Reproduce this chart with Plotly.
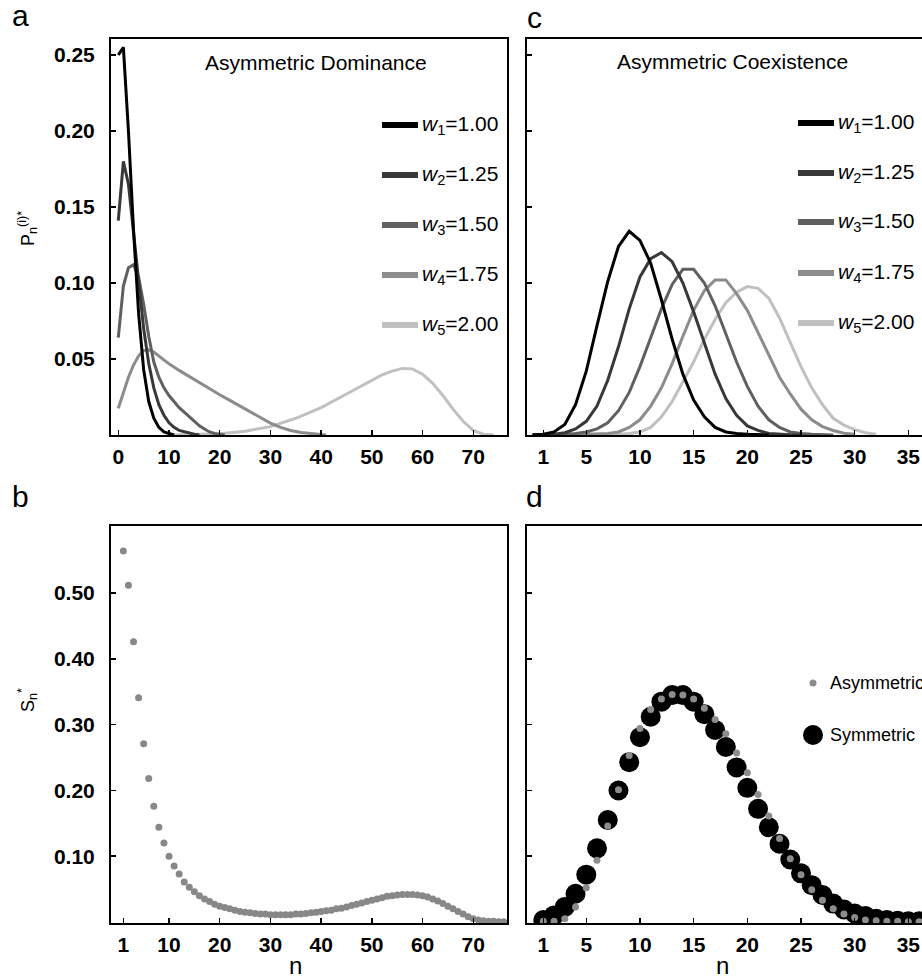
import plotly.graph_objects as go

# ---------------- data ----------------
w_values = ["1.00", "1.25", "1.50", "1.75", "2.00"]
w_colors = ["#000000", "#383838", "#606060", "#8c8c8c", "#c0c0c0"]

# Panel a: Asymmetric Dominance, P_n^(i)*
a_n_w1 = list(range(0, 12))
a_p_w1 = [0.250, 0.255, 0.200, 0.135, 0.080, 0.043, 0.022, 0.011, 0.005, 0.002, 0.001, 0.0]
a_n_w2 = list(range(0, 17))
a_p_w2 = [0.141, 0.180, 0.165, 0.132, 0.100, 0.070, 0.047, 0.031, 0.020, 0.013, 0.008,
          0.005, 0.003, 0.002, 0.001, 0.0005, 0.0]
a_n_w3 = list(range(0, 22))
a_p_w3 = [0.064, 0.098, 0.110, 0.112, 0.104, 0.086, 0.065, 0.048, 0.038, 0.031, 0.026,
          0.022, 0.018, 0.015, 0.012, 0.009, 0.006, 0.004, 0.002, 0.001, 0.0005, 0.0]
a_n_w4 = [0, 1, 2, 3, 4, 5, 6, 7, 8, 9, 10, 12, 14, 16, 18, 20, 22, 24, 26, 28, 30, 32,
          34, 36, 38, 40, 41]
a_p_w4 = [0.0175, 0.028, 0.038, 0.046, 0.052, 0.0555, 0.056, 0.0545, 0.052, 0.0495, 0.0468,
          0.0425, 0.0384, 0.0345, 0.0305, 0.0265, 0.0228, 0.019, 0.0155, 0.0115, 0.0078,
          0.005, 0.003, 0.0017, 0.0008, 0.0003, 0.0]
a_n_w5 = [10, 15, 20, 25, 30, 35, 40, 45, 50, 52, 54, 56, 58, 60, 62, 64, 66, 68, 70, 72, 74]
a_p_w5 = [0.0, 0.0002, 0.0008, 0.0025, 0.0055, 0.011, 0.018, 0.027, 0.036, 0.0395, 0.042,
          0.0438, 0.0435, 0.040, 0.034, 0.026, 0.017, 0.009, 0.003, 0.0005, 0.0]

# Panel c: Asymmetric Coexistence, P_n^(i)*
c_p_w1 = [0.0, 0.0005, 0.002, 0.007, 0.020, 0.042, 0.072, 0.101, 0.124, 0.134, 0.128,
          0.113, 0.089, 0.063, 0.040, 0.023, 0.012, 0.005, 0.002, 0.001, 0.0005, 0.0002, 0.0]
c_p_w2 = [0.0, 0.0001, 0.0005, 0.0015, 0.004, 0.009, 0.019, 0.036, 0.058, 0.083, 0.104,
          0.116, 0.120, 0.114, 0.100, 0.081, 0.060, 0.040, 0.024, 0.013, 0.006, 0.003,
          0.001, 0.0005, 0.0002, 0.0]
c_p_w3 = [0.0, 0.0, 0.0002, 0.0005, 0.001, 0.002, 0.004, 0.008, 0.016, 0.028, 0.045,
          0.064, 0.083, 0.099, 0.109, 0.109, 0.100, 0.085, 0.067, 0.048, 0.032, 0.019,
          0.010, 0.005, 0.002, 0.001, 0.0005, 0.0002, 0.0]
c_p_w4 = [0.0, 0.0, 0.0, 0.0, 0.0002, 0.0005, 0.0007, 0.001, 0.002, 0.005, 0.010, 0.019,
          0.031, 0.047, 0.065, 0.082, 0.095, 0.102, 0.102, 0.093, 0.082, 0.067, 0.052,
          0.038, 0.027, 0.017, 0.010, 0.0055, 0.003, 0.0012, 0.0005]
c_p_w5 = [0.0, 0.0, 0.0, 0.0, 0.0, 0.0001, 0.0002, 0.0003, 0.0005, 0.001, 0.002, 0.005,
          0.012, 0.022, 0.035, 0.048, 0.063, 0.076, 0.087, 0.094, 0.0976, 0.0965, 0.090,
          0.077, 0.061, 0.045, 0.031, 0.020, 0.011, 0.0065, 0.0035, 0.0015, 0.0005]

# Panel b: S_n* (asymmetric dominance)
b_n = list(range(1, 77))
b_s = [0.564, 0.512, 0.426, 0.341, 0.271, 0.218, 0.176, 0.144, 0.120, 0.100,
       0.085, 0.073, 0.061, 0.053, 0.046, 0.040, 0.035, 0.031, 0.027, 0.024,
       0.022, 0.020, 0.018, 0.016, 0.015, 0.014, 0.013, 0.012, 0.012, 0.011,
       0.011, 0.011, 0.011, 0.011, 0.012, 0.012, 0.013, 0.014, 0.015, 0.016,
       0.017, 0.018, 0.020, 0.021, 0.023, 0.025, 0.027, 0.029, 0.031, 0.033,
       0.035, 0.037, 0.039, 0.040, 0.041, 0.042, 0.042, 0.042, 0.041, 0.040,
       0.038, 0.035, 0.032, 0.028, 0.024, 0.020, 0.016, 0.012, 0.008, 0.005,
       0.003, 0.002, 0.001, 0.001, 0.0005, 0.0003]

# Panel d: S_n* (coexistence), asymmetric vs symmetric
d_n = list(range(1, 37))
d_sym = [0.003, 0.010, 0.023, 0.043, 0.072, 0.112, 0.155, 0.200, 0.243, 0.281,
         0.312, 0.335, 0.345, 0.345, 0.335, 0.316, 0.292, 0.266, 0.235, 0.204,
         0.172, 0.144, 0.119, 0.095, 0.074, 0.056, 0.041, 0.028, 0.019, 0.013,
         0.009, 0.005, 0.003, 0.002, 0.001, 0.001]
d_asym = [0.001, 0.001, 0.005, 0.023, 0.052, 0.094, 0.146, 0.201, 0.253, 0.294,
          0.323, 0.339, 0.346, 0.345, 0.339, 0.325, 0.308, 0.286, 0.257, 0.227,
          0.194, 0.161, 0.127, 0.096, 0.072, 0.049, 0.033, 0.020, 0.012, 0.007,
          0.003, 0.002, 0.001, 0.001, 0.0005, 0.0003]

a_xticks = [0, 10, 20, 30, 40, 50, 60, 70]
b_xticks = [1, 10, 20, 30, 40, 50, 60, 70]
cd_xticks = [1, 5, 10, 15, 20, 25, 30, 35]
ab_yticks = [0.05, 0.10, 0.15, 0.20, 0.25]
bd_yticks = [0.10, 0.20, 0.30, 0.40, 0.50]

# ---------------- layout helpers ----------------
W, H = 922, 979
FONT = "Liberation Sans, Arial, Helvetica, sans-serif"


def fx(p):
    return p / W


def fy(p):
    return 1 - p / H


fig = go.Figure()

a_series = [(a_n_w1, a_p_w1), (a_n_w2, a_p_w2), (a_n_w3, a_p_w3), (a_n_w4, a_p_w4), (a_n_w5, a_p_w5)]
c_series = [c_p_w1, c_p_w2, c_p_w3, c_p_w4, c_p_w5]

for i in reversed(range(5)):
    nx, py = a_series[i]
    fig.add_trace(go.Scatter(x=nx, y=py, mode="lines", xaxis="x", yaxis="y",
                             line=dict(color=w_colors[i], width=3), showlegend=False))
for i in reversed(range(5)):
    py = c_series[i]
    fig.add_trace(go.Scatter(x=list(range(len(py))), y=py, mode="lines", xaxis="x2", yaxis="y2",
                             line=dict(color=w_colors[i], width=3), showlegend=False))

fig.add_trace(go.Scatter(x=b_n, y=b_s, mode="markers", xaxis="x3", yaxis="y3",
                         marker=dict(color="#888888", size=7), showlegend=False))
fig.add_trace(go.Scatter(x=d_n, y=d_sym, mode="markers", xaxis="x4", yaxis="y4",
                         marker=dict(color="#000000", size=20), showlegend=False))
fig.add_trace(go.Scatter(x=d_n, y=d_asym, mode="markers", xaxis="x4", yaxis="y4",
                         marker=dict(color="#8c8c8c", size=7), showlegend=False))


def axis(domain, rng, tickvals, labels=True, mirror=True, standoff=2):
    d = dict(domain=domain, range=rng, tickmode="array", tickvals=tickvals,
             showline=True, linecolor="black", linewidth=2, mirror=mirror,
             ticks="inside", ticklen=5, tickwidth=1.5, tickcolor="black",
             showgrid=False, zeroline=False, showticklabels=labels,
             ticklabelstandoff=standoff,
             tickfont=dict(family=FONT, size=21, color="black", weight="bold"),
             fixedrange=True)
    return d


L1, R1 = 111, 507
L2, R2 = 527, 922
T1, B1 = 39, 435
T2, B2 = 526, 923

ab_xrange = [-1.44, 76.65]
cd_xrange = [-0.52, 36.27]
ac_yrange = [0, 0.2605]
bd_yrange = [-0.0015, 0.602]

fig.update_layout(
    xaxis=dict(axis([fx(L1), fx(R1)], ab_xrange, a_xticks), anchor="y",
               ticktext=[str(v) for v in a_xticks]),
    yaxis=dict(axis([fy(B1), fy(T1)], ac_yrange, ab_yticks, standoff=10), anchor="x",
               ticktext=["%.2f" % v for v in ab_yticks]),
    xaxis2=dict(axis([fx(L2), fx(R2)], cd_xrange, cd_xticks), anchor="y2",
                ticktext=[str(v) for v in cd_xticks]),
    yaxis2=dict(axis([fy(B1), fy(T1)], ac_yrange, ab_yticks, labels=False, mirror=False), anchor="x2"),
    xaxis3=dict(axis([fx(L1), fx(R1)], ab_xrange, b_xticks), anchor="y3",
                ticktext=[str(v) for v in b_xticks]),
    yaxis3=dict(axis([fy(B2), fy(T2)], bd_yrange, bd_yticks, standoff=10), anchor="x3",
                ticktext=["%.2f" % v for v in bd_yticks]),
    xaxis4=dict(axis([fx(L2), fx(R2)], cd_xrange, cd_xticks), anchor="y4",
                ticktext=[str(v) for v in cd_xticks]),
    yaxis4=dict(axis([fy(B2), fy(T2)], bd_yrange, bd_yticks, labels=False, mirror=False), anchor="x4"),
)

annotations = []
shapes = []


def text(x, y, s, size, xanchor="center", yanchor="middle", angle=0):
    annotations.append(dict(x=fx(x), y=fy(y), xref="paper", yref="paper", text=s,
                            showarrow=False, xanchor=xanchor, yanchor=yanchor,
                            textangle=angle,
                            font=dict(family=FONT, size=size, color="black")))


# panel letters
text(20, 16, "a", 30)
text(534, 17, "c", 30)
text(20, 497, "b", 30)
text(534, 497, "d", 30)

# titles
text(316, 62, "Asymmetric Dominance", 21)
text(732, 61, "Asymmetric Coexistence", 21)

# legends of a and c
leg_a_y = [125, 175, 225, 275, 325]
leg_c_y = [123, 173, 222, 273, 323]
for i in range(5):
    lbl = "<i>w</i><sub>%d</sub>=%s" % (i + 1, w_values[i])
    for (x0, x1, ys) in [(382, 418, leg_a_y), (798, 834, leg_c_y)]:
        shapes.append(dict(type="line", xref="paper", yref="paper",
                           x0=fx(x0), x1=fx(x1), y0=fy(ys[i]), y1=fy(ys[i]),
                           line=dict(color=w_colors[i], width=6)))
        text(x1 + 2, ys[i], lbl, 21, xanchor="left")

# legend of d
for (yy, col, sz, lbl) in [(683, "#8c8c8c", 7, "Asymmetric"), (735, "#000000", 20, "Symmetric")]:
    shapes.append(dict(type="circle", xref="paper", yref="paper",
                       xsizemode="pixel", ysizemode="pixel",
                       xanchor=fx(813), yanchor=fy(yy),
                       x0=-sz / 2, x1=sz / 2, y0=-sz / 2, y1=sz / 2,
                       fillcolor=col, line=dict(width=0)))
    text(828, yy, lbl, 18, xanchor="left")

# axis titles
text(27, 229, "P<sub>n</sub><sup>(i)*</sup>", 18, angle=-90)
text(27, 700, "S<sub>n</sub><sup>*</sup>", 18, angle=-90)
text(295, 965, "n", 24)
text(722, 965, "n", 24)

fig.update_layout(
    width=W, height=H, margin=dict(l=0, r=0, t=0, b=0),
    paper_bgcolor="white", plot_bgcolor="white",
    font=dict(family=FONT, color="black"),
    annotations=annotations, shapes=shapes, showlegend=False,
)

fig.write_html(
    "out.html",
    config={"displayModeBar": False, "staticPlot": True},
    post_script="document.body.style.margin='0';document.body.style.padding='0';"
                "document.body.style.overflow='hidden';"
                "document.documentElement.style.overflow='hidden';",
)
